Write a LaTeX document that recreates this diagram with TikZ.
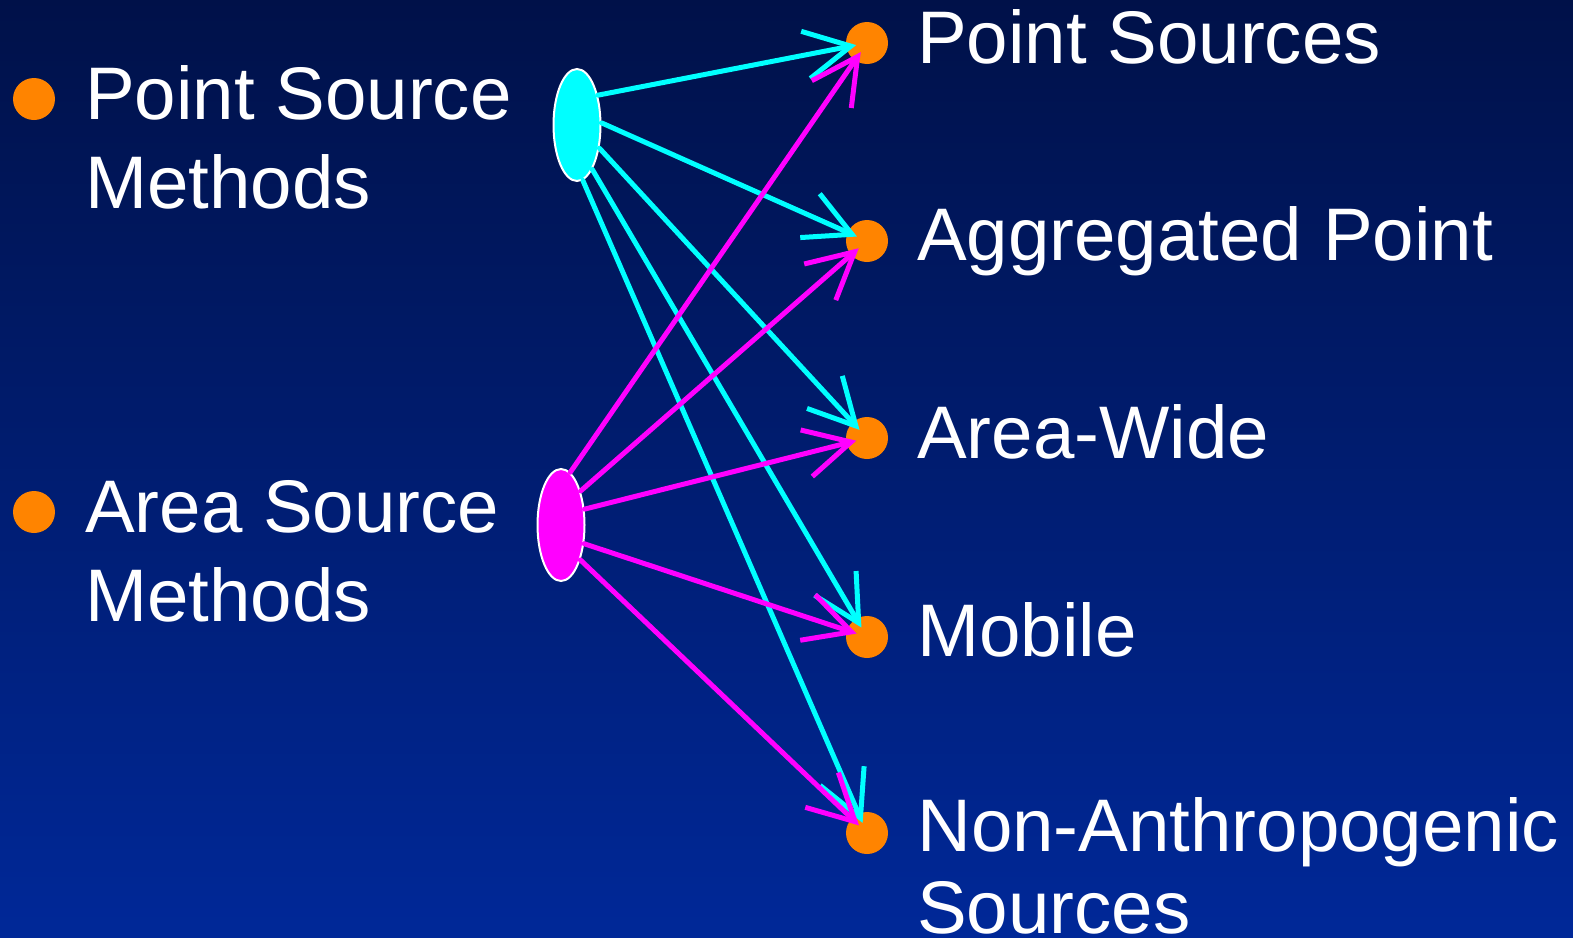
\documentclass[tikz,border=0pt]{standalone}
\usepackage{fontspec}
\setmainfont{Liberation Sans}
\usepackage{tikz}
\usetikzlibrary{arrows.meta,shapes.geometric}
\definecolor{slidetop}{RGB}{0,17,73}
\definecolor{slidebot}{RGB}{0,40,152}
\definecolor{bulletorange}{RGB}{255,132,0}
\definecolor{pscyan}{RGB}{0,255,255}
\definecolor{asmagenta}{RGB}{255,0,255}
\tikzset{
  orangedot/.style={circle, fill=bulletorange, minimum size=42pt, inner sep=0pt},
  lbl/.style={anchor=base west, inner sep=0pt, text=white, align=left, font=\fontsize{74.5}{89}\selectfont},
  src/.style={ellipse, draw=white, line width=2pt, minimum width=47pt, minimum height=112pt, inner sep=0pt},
  pslink/.style={draw=pscyan, line width=5pt, line cap=round, -{Straight Barb[length=46pt,width=48pt]}, shorten >=11pt},
  aslink/.style={draw=asmagenta, line width=5pt, line cap=round, -{Straight Barb[length=46pt,width=48pt]}, shorten >=11pt},
}
\begin{document}
\begin{tikzpicture}[x=1pt,y=-1pt]
  \shade[top color=slidetop, bottom color=slidebot] (0,0) rectangle (1573,937);
  \useasboundingbox (0,0) rectangle (1573,937);

  % method bullets (base = last line)
  \node[orangedot] (b1) at (34,99) {};
  \node[lbl] (t1) at (85,208) {Point Source\\Methods};
  \node[orangedot] (b2) at (34,512) {};
  \node[lbl] (t2) at (85,621) {Area Source\\Methods};

  % source categories
  \foreach \i/\yy/\bl/\txt in {1/43/63/{Point Sources}, 2/241/260/{Aggregated Point}, 3/438/458/{Area-Wide}, 4/637/656/{Mobile}, 5/833/933/{Non-Anthropogenic\\[-7pt]Sources}} {
    \node[orangedot] (d\i) at (867,\yy) {};
    \node[lbl] (c\i) at (917,\bl) {\txt};
  }

  \node[src, fill=pscyan] (ps) at (577,125) {};
  \node[src, fill=asmagenta] (as) at (561,525) {};

  \draw[pslink] (ps.55) -- (d1.center);
  \draw[pslink] (ps.5) -- (d2.center);
  \draw[pslink] (ps.-46) -- (d3.center);
  \draw[pslink] (ps.-71) -- (d4.center);
  \draw[pslink] (ps.-84) -- (d5.center);

  \draw[aslink] (as.80) -- (d1.center);
  \draw[aslink] (as.60) -- (d2.center);
  \draw[aslink] (as.34) -- (d3.center);
  \draw[aslink] (as.-39) -- (d4.center);
  \draw[aslink] (as.-61) -- (d5.center);
\end{tikzpicture}
\end{document}
